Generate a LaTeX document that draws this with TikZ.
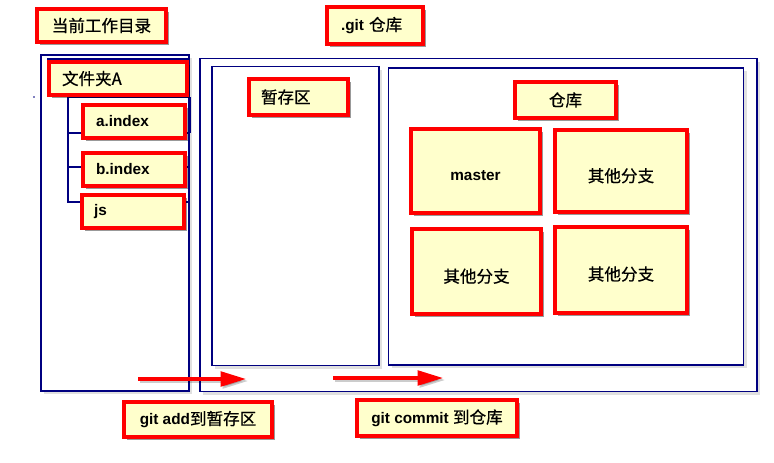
\documentclass[tikz,border=0pt]{standalone}
\usepackage{fontspec}
\setmainfont{Liberation Sans}
\newfontfamily\cjkfam{Noto Sans CJK SC}[Scale=1.08, FakeBold=0.6]
\newcommand{\zh}{\cjkfam\mdseries}
\usetikzlibrary{shadows,arrows.meta}
\definecolor{boxfill}{HTML}{FFFFCC}
\definecolor{navy}{HTML}{000080}
\tikzset{
  lbl/.style={draw=red, line width=2.3pt, fill=boxfill, inner sep=0pt,
    font=\fontsize{11.5}{13}\selectfont\bfseries,
    drop shadow={shadow xshift=2.4pt, shadow yshift=-2.4pt, fill=black, opacity=0.4}},
  lowtxt/.style={text height=#1, text depth=1.5pt},
  cont/.style={draw=navy, line width=0.8pt, fill=white, inner sep=0pt,
    drop shadow={shadow xshift=2.5pt, shadow yshift=-2.5pt, fill=black, opacity=0.12}},
  treeline/.style={draw=navy, line width=0.8pt},
  flow/.style={draw=red, line width=2.4pt, -{Triangle[length=19pt,width=11pt]},
    preaction={draw=black, opacity=0.2, line width=2.4pt, transform canvas={xshift=1.5pt,yshift=-1.5pt}, -{Triangle[length=19pt,width=11pt]}}},
}
\begin{document}
\begin{tikzpicture}[x=0.75pt,y=-0.75pt]
\useasboundingbox (0,0) rectangle (774,462);
% containers
\node[cont, minimum width=0.75pt*148, minimum height=0.75pt*336] (wd) at (115,223) {};
\node[cont, minimum width=0.75pt*557, minimum height=0.75pt*333] (gitc) at (478.5,225) {};
\node[cont, minimum width=0.75pt*167, minimum height=0.75pt*299] (stagec) at (295.5,216) {};
\node[cont, minimum width=0.75pt*355, minimum height=0.75pt*297] (repoc) at (566,216.5) {};
% folder tree
\node[treeline, draw, minimum width=0.75pt*139, minimum height=0.75pt*34, inner sep=0pt] (fold) at (117.5,76) {};
\node[treeline, draw, minimum width=0.75pt*121, minimum height=0.75pt*105, inner sep=0pt] (tree) at (128.5,149.5) {};
\coordinate (t1l) at (68,133); \coordinate (t1r) at (190,133);
\coordinate (t2l) at (68,167); \coordinate (t2r) at (189,167);
\draw[treeline, line width=1.6pt] (t1l) -- (t1r);
\draw[treeline] (t2l) -- (t2r);
\coordinate (t0r) at (190,97);
\draw[treeline] (t0r) -- (t1r);
\fill[navy] (34,97) circle (0.6pt);
% labels
\node[lbl, minimum width=0.75pt*129, minimum height=0.75pt*33] (cur) at (101.5,25.5) {\zh 当前工作目录};
\node[lbl, minimum width=0.75pt*96, minimum height=0.75pt*37, text width=0.75pt*(96-28), inner xsep=0.75pt*14, align=left] (git) at (375,25.5) {.git {\zh 仓库}};
\node[lbl, minimum width=0.75pt*138, minimum height=0.75pt*33, text width=0.75pt*(138-26), inner xsep=0.75pt*13, align=left] (folder) at (118,78.5) {\zh 文件夹A};
\node[lbl, minimum width=0.75pt*102, minimum height=0.75pt*33, text width=0.75pt*(102-26), inner xsep=0.75pt*13, align=left] (a) at (134,121.5) {a.index};
\node[lbl, minimum width=0.75pt*102, minimum height=0.75pt*33, text width=0.75pt*(102-26), inner xsep=0.75pt*13, align=left] (b) at (134,169.5) {b.index};
\node[lbl, minimum width=0.75pt*102, minimum height=0.75pt*33, text width=0.75pt*(102-24), inner xsep=0.75pt*12, align=left] (js) at (133,211.5) {js};
\node[lbl, minimum width=0.75pt*99, minimum height=0.75pt*36, text width=0.75pt*(99-24), inner xsep=0.75pt*12, align=left] (stage) at (298.5,97) {\zh 暂存区};
\node[lbl, minimum width=0.75pt*101, minimum height=0.75pt*36] (repo) at (565.5,100) {\zh 仓库};
\node[lbl, lowtxt=16pt, minimum width=0.75pt*129, minimum height=0.75pt*84] (master) at (475.5,171) {master};
\node[lbl, lowtxt=18pt, minimum width=0.75pt*132, minimum height=0.75pt*82] (o1) at (621,171) {\zh 其他分支};
\node[lbl, lowtxt=18pt, minimum width=0.75pt*129, minimum height=0.75pt*85] (o2) at (476.5,271.5) {\zh 其他分支};
\node[lbl, lowtxt=17pt, minimum width=0.75pt*132, minimum height=0.75pt*86] (o3) at (621,270) {\zh 其他分支};
\node[lbl, minimum width=0.75pt*148, minimum height=0.75pt*35] (add) at (198,419.5) {git add{\zh 到暂存区}};
\node[lbl, minimum width=0.75pt*160, minimum height=0.75pt*36] (commit) at (437,418) {git commit {\zh 到仓库}};
% arrows
\coordinate (a1s) at (138,379); \coordinate (a1e) at (246,379);
\coordinate (a2s) at (333,378); \coordinate (a2e) at (443,378);
\draw[flow] (a1s) -- (a1e);
\draw[flow] (a2s) -- (a2e);
\end{tikzpicture}
\end{document}
